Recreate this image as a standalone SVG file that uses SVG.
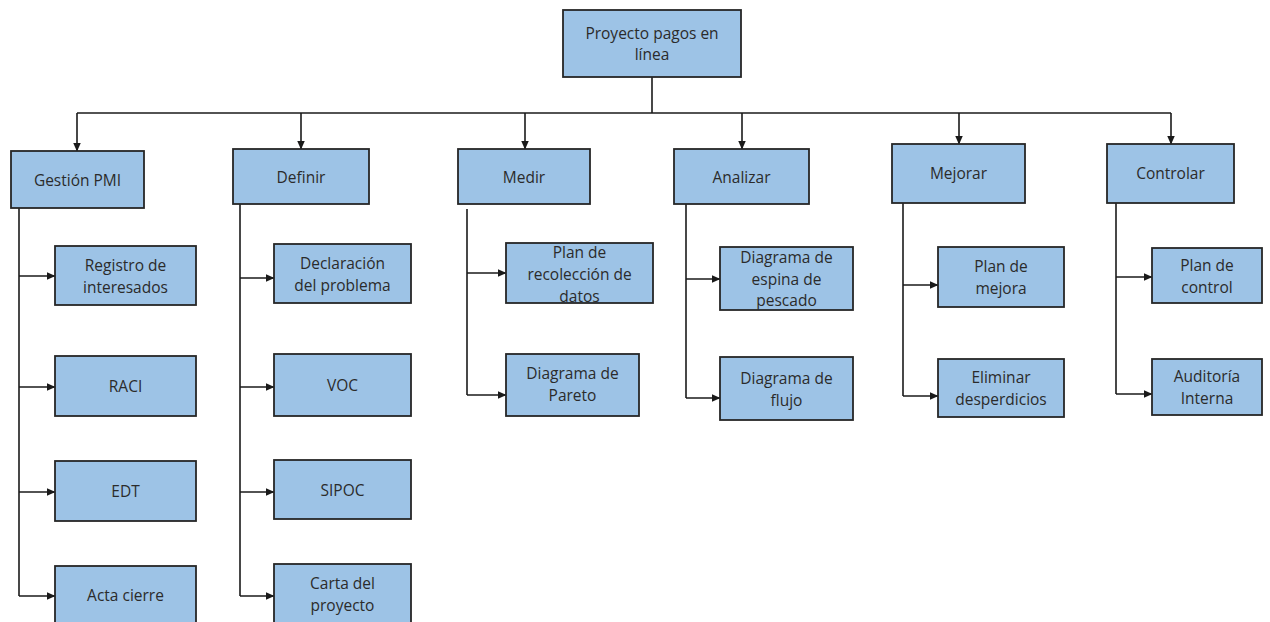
<svg xmlns="http://www.w3.org/2000/svg" width="1270" height="622" viewBox="0 0 1270 622">
  <style>
    .box { fill: #9DC3E6; stroke: #262626; stroke-width: 1.8; }
    .lbl { font-family: "Open Sans", "Liberation Sans", sans-serif; font-size: 15.5px; fill: #2b2b2b; text-anchor: middle; dominant-baseline: central; }
    .wire { fill: none; stroke: #1a1a1a; stroke-width: 1.6; }
    .arr { fill: none; stroke: #1a1a1a; stroke-width: 1.6; marker-end: url(#head); }
  </style>
  <defs>
    <marker id="head" markerUnits="userSpaceOnUse" markerWidth="9" markerHeight="8" refX="8.5" refY="4" orient="auto">
      <path d="M0,0 L9,4 L0,8 z" fill="#1a1a1a"/>
    </marker>
  </defs>
  <rect width="1270" height="622" fill="#ffffff"/>

  <g id="connectors">
    <!-- trunk from the root to the six phases -->
    <path class="wire" d="M652,77 V113"/>
    <path class="wire" d="M77,113 H1171"/>
    <path class="arr" d="M77,113 V151"/>
    <path class="arr" d="M301,113 V149"/>
    <path class="arr" d="M525,113 V149"/>
    <path class="arr" d="M742,113 V149"/>
    <path class="arr" d="M959,113 V144"/>
    <path class="arr" d="M1171,113 V144"/>

    <!-- Gestión PMI branch -->
    <path class="wire" d="M19,208 V596"/>
    <path class="arr" d="M19,276 H55"/>
    <path class="arr" d="M19,387 H55"/>
    <path class="arr" d="M19,492 H55"/>
    <path class="arr" d="M19,596 H55"/>

    <!-- Definir branch -->
    <path class="wire" d="M240,204 V596"/>
    <path class="arr" d="M240,278 H274"/>
    <path class="arr" d="M240,387 H274"/>
    <path class="arr" d="M240,492 H274"/>
    <path class="arr" d="M240,596 H274"/>

    <!-- Medir branch -->
    <path class="wire" d="M467,209 V395"/>
    <path class="arr" d="M467,273 H506"/>
    <path class="arr" d="M467,395 H506"/>

    <!-- Analizar branch -->
    <path class="wire" d="M686,204 V398"/>
    <path class="arr" d="M686,279 H720"/>
    <path class="arr" d="M686,398 H720"/>

    <!-- Mejorar branch -->
    <path class="wire" d="M903,203 V396"/>
    <path class="arr" d="M903,285 H938"/>
    <path class="arr" d="M903,396 H938"/>

    <!-- Controlar branch -->
    <path class="wire" d="M1116,203 V394"/>
    <path class="arr" d="M1116,277 H1152"/>
    <path class="arr" d="M1116,394 H1152"/>
  </g>

  <g id="root">
    <rect class="box" x="563" y="10" width="178" height="67"/>
    <text class="lbl" x="652" y="33">Proyecto pagos en</text>
    <text class="lbl" x="652" y="54">línea</text>
  </g>

  <g id="gestion-pmi">
    <rect class="box" x="11" y="151" width="133" height="57"/>
    <text class="lbl" x="77.5" y="179.5">Gestión PMI</text>
  </g>
  <g id="registro">
    <rect class="box" x="55" y="246" width="141" height="59"/>
    <text class="lbl" x="125.5" y="265">Registro de</text>
    <text class="lbl" x="125.5" y="287">interesados</text>
  </g>
  <g id="raci">
    <rect class="box" x="55" y="356" width="141" height="60"/>
    <text class="lbl" x="125.5" y="386">RACI</text>
  </g>
  <g id="edt">
    <rect class="box" x="55" y="461" width="141" height="60"/>
    <text class="lbl" x="125.5" y="491">EDT</text>
  </g>
  <g id="acta-cierre">
    <rect class="box" x="55" y="566" width="141" height="60"/>
    <text class="lbl" x="125.5" y="595">Acta cierre</text>
  </g>

  <g id="definir">
    <rect class="box" x="233" y="149" width="136" height="55"/>
    <text class="lbl" x="301" y="177">Definir</text>
  </g>
  <g id="declaracion">
    <rect class="box" x="274" y="244" width="137" height="59"/>
    <text class="lbl" x="342.5" y="263">Declaración</text>
    <text class="lbl" x="342.5" y="285">del problema</text>
  </g>
  <g id="voc">
    <rect class="box" x="274" y="354" width="137" height="62"/>
    <text class="lbl" x="342.5" y="385">VOC</text>
  </g>
  <g id="sipoc">
    <rect class="box" x="274" y="460" width="137" height="59"/>
    <text class="lbl" x="342.5" y="489.5">SIPOC</text>
  </g>
  <g id="carta">
    <rect class="box" x="274" y="564" width="137" height="60"/>
    <text class="lbl" x="342.5" y="583">Carta del</text>
    <text class="lbl" x="342.5" y="605">proyecto</text>
  </g>

  <g id="medir">
    <rect class="box" x="458" y="149" width="132" height="55"/>
    <text class="lbl" x="524" y="177">Medir</text>
  </g>
  <g id="plan-recoleccion">
    <rect class="box" x="506" y="243" width="147" height="60"/>
    <text class="lbl" x="579.5" y="252">Plan de</text>
    <text class="lbl" x="579.5" y="274">recolección de</text>
    <text class="lbl" x="579.5" y="296">datos</text>
  </g>
  <g id="pareto">
    <rect class="box" x="506" y="354" width="133" height="62"/>
    <text class="lbl" x="572.5" y="373">Diagrama de</text>
    <text class="lbl" x="572.5" y="395">Pareto</text>
  </g>

  <g id="analizar">
    <rect class="box" x="674" y="149" width="135" height="55"/>
    <text class="lbl" x="741.5" y="177">Analizar</text>
  </g>
  <g id="espina">
    <rect class="box" x="720" y="247" width="133" height="63"/>
    <text class="lbl" x="786.5" y="257">Diagrama de</text>
    <text class="lbl" x="786.5" y="279">espina de</text>
    <text class="lbl" x="786.5" y="300">pescado</text>
  </g>
  <g id="flujo">
    <rect class="box" x="720" y="357" width="133" height="63"/>
    <text class="lbl" x="786.5" y="378">Diagrama de</text>
    <text class="lbl" x="786.5" y="400">flujo</text>
  </g>

  <g id="mejorar">
    <rect class="box" x="892" y="144" width="133" height="59"/>
    <text class="lbl" x="958.5" y="173">Mejorar</text>
  </g>
  <g id="plan-mejora">
    <rect class="box" x="938" y="247" width="126" height="60"/>
    <text class="lbl" x="1001" y="266">Plan de</text>
    <text class="lbl" x="1001" y="288">mejora</text>
  </g>
  <g id="eliminar">
    <rect class="box" x="938" y="359" width="126" height="58"/>
    <text class="lbl" x="1001" y="377">Eliminar</text>
    <text class="lbl" x="1001" y="399">desperdicios</text>
  </g>

  <g id="controlar">
    <rect class="box" x="1107" y="144" width="127" height="59"/>
    <text class="lbl" x="1170.5" y="173">Controlar</text>
  </g>
  <g id="plan-control">
    <rect class="box" x="1152" y="248" width="110" height="55"/>
    <text class="lbl" x="1207" y="265">Plan de</text>
    <text class="lbl" x="1207" y="287">control</text>
  </g>
  <g id="auditoria">
    <rect class="box" x="1152" y="359" width="110" height="56"/>
    <text class="lbl" x="1207" y="376">Auditoría</text>
    <text class="lbl" x="1207" y="398">Interna</text>
  </g>
</svg>
